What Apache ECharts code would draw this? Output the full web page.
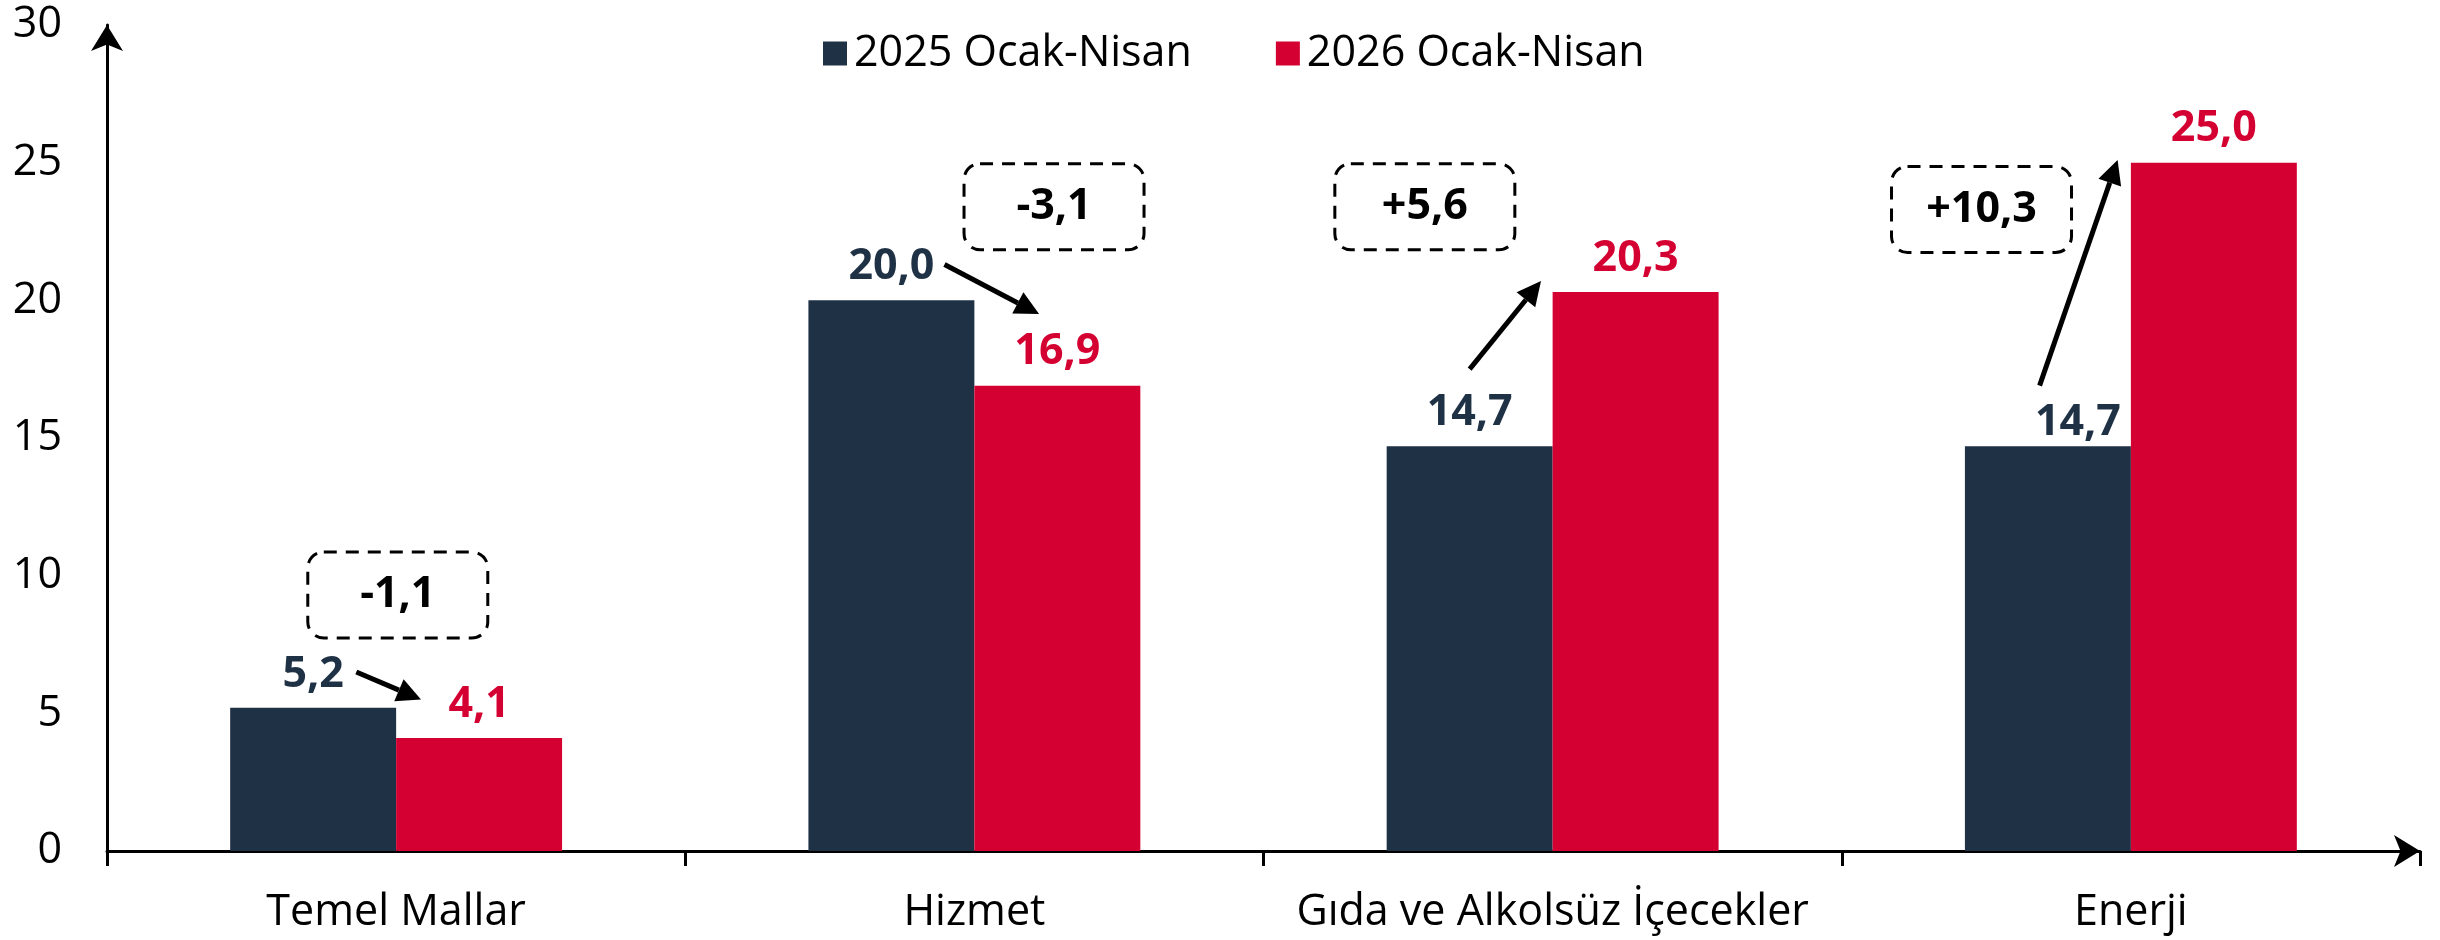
<!DOCTYPE html>
<html>
<head>
<meta charset="utf-8">
<script src="https://cdn.jsdelivr.net/npm/echarts@6/dist/echarts.min.js"></script>
<style>
  html, body { margin: 0; padding: 0; background: #fff; }
  #chartdiv { width: 2440px; height: 940px; }
</style>
</head>
<body>
<div id="chartdiv"></div>
<script>
// categories and values
var categories = ['Temel Mallar', 'Hizmet', 'Gıda ve Alkolsüz İçecekler', 'Enerji'];
var values2025 = [5.2, 20.0, 14.7, 14.7];
var values2026 = [4.1, 16.9, 20.3, 25.0];
var yTicks = [0, 5, 10, 15, 20, 25, 30];

// annotation anchors: x in bar widths from category centre, y in axis units
var arrowFromX = [-0.24, -0.18, -0.50, -0.55];
var arrowFromY = [6.5, 21.3, 17.5, 16.9];
var arrowToX = [0.15, 0.39, -0.07, -0.08];
var arrowToY = [5.5, 19.5, 20.7, 25.1];
var boxX = [0.01, 0.48, -0.77, -0.90];
var boxY = [9.3, 23.4, 23.4, 23.3];

var DARK = '#1F3145';
var RED = '#D50032';
var FONT = 'Open Sans';
var BAR_SHARE = 0.287;

function fmt(v) {
    return v.toFixed(1).replace('.', ',');
}

function fmtDiff(v) {
    return (v > 0 ? '+' : '') + fmt(v);
}

var annoData = categories.map(function(c, i) {
    return [i, arrowFromX[i], arrowFromY[i], arrowToX[i], arrowToY[i], boxX[i], boxY[i]];
});

function renderAnno(params, api) {
    var i = api.value(0);
    var band = api.size([1, 0])[0];
    var bw = band * BAR_SHARE;
    var c0 = api.coord([i, 0]);
    var p1 = api.coord([i, api.value(2)]);
    var p2 = api.coord([i, api.value(4)]);
    var pb = api.coord([i, api.value(6)]);
    var x1 = c0[0] + api.value(1) * bw, y1 = p1[1];
    var x2 = c0[0] + api.value(3) * bw, y2 = p2[1];
    var bx = c0[0] + api.value(5) * bw, by = pb[1];

    // arrow: shaft stops at the head base
    var dx = x2 - x1, dy = y2 - y1;
    var len = Math.sqrt(dx * dx + dy * dy);
    var ux = dx / len, uy = dy / len;
    var headL = 24, headW = 12;
    var hx = x2 - ux * headL, hy = y2 - uy * headL;

    var diff = Math.round((values2026[i] - values2025[i]) * 10) / 10;
    var boxW = 180, boxH = 86;

    return {
        type: 'group',
        children: [
            {
                type: 'line',
                shape: { x1: x1, y1: y1, x2: hx, y2: hy },
                style: { stroke: '#000', lineWidth: 5 }
            },
            {
                type: 'polygon',
                shape: { points: [[x2, y2], [hx - uy * headW, hy + ux * headW], [hx + uy * headW, hy - ux * headW]] },
                style: { fill: '#000' }
            },
            {
                type: 'rect',
                shape: { x: bx - boxW / 2, y: by - boxH / 2, width: boxW, height: boxH, r: 16 },
                style: { fill: 'none', stroke: '#000', lineWidth: 3, lineDash: [13, 9] }
            },
            {
                type: 'text',
                x: bx,
                y: by,
                style: {
                    text: fmtDiff(diff),
                    fill: '#000',
                    font: 'bold 43px "' + FONT + '"',
                    align: 'center',
                    verticalAlign: 'middle'
                }
            }
        ]
    };
}

var dark = values2025.map(function(v, i) {
    var item = { value: v };
    if (i === 3) item.label = { offset: [30, 10] };
    return item;
});

var options = {
    animation: false,
    textStyle: { fontFamily: FONT },
    legend: {
        data: ['2025 Ocak-Nisan', '2026 Ocak-Nisan'],
        left: 818,
        top: 27,
        itemWidth: 24,
        itemHeight: 24,
        itemGap: 84,
        icon: 'rect',
        textStyle: { fontSize: 43, color: '#000', fontFamily: FONT, padding: [0, 0, 0, 2] }
    },
    grid: {
        top: 25,
        bottom: 89,
        left: 107,
        right: 20,
        containLabel: false
    },
    xAxis: {
        type: 'category',
        data: categories,
        axisLine: {
            show: true,
            symbol: ['none', 'arrow'],
            symbolSize: [24, 26],
            lineStyle: { color: '#000', width: 3 }
        },
        axisTick: { show: true, interval: 0, length: 15, lineStyle: { color: '#000', width: 3 } },
        axisLabel: { interval: 0, fontSize: 43, color: '#000', margin: 40, fontFamily: FONT }
    },
    yAxis: {
        type: 'value',
        min: yTicks[0],
        max: yTicks[yTicks.length - 1],
        interval: yTicks[1] - yTicks[0],
        splitLine: { show: false },
        axisLine: {
            show: true,
            symbol: ['none', 'arrow'],
            symbolSize: [24, 26],
            lineStyle: { color: '#000', width: 3 }
        },
        axisTick: { show: false },
        axisLabel: { fontSize: 43, color: '#000', margin: 45, fontFamily: FONT }
    },
    series: [
        {
            name: '2025 Ocak-Nisan',
            type: 'bar',
            data: dark,
            barWidth: (BAR_SHARE * 100) + '%',
            barGap: '0%',
            itemStyle: { color: DARK },
            label: {
                show: true,
                position: 'top',
                distance: 12,
                color: DARK,
                fontSize: 43,
                fontWeight: 'bold',
                fontFamily: FONT,
                formatter: function(d) { return fmt(d.value); }
            }
        },
        {
            name: '2026 Ocak-Nisan',
            type: 'bar',
            data: values2026,
            barWidth: (BAR_SHARE * 100) + '%',
            itemStyle: { color: RED },
            label: {
                show: true,
                position: 'top',
                distance: 12,
                color: RED,
                fontSize: 43,
                fontWeight: 'bold',
                fontFamily: FONT,
                formatter: function(d) { return fmt(d.value); }
            }
        },
        {
            type: 'custom',
            renderItem: renderAnno,
            data: annoData,
            encode: { x: 0, y: 2 },
            clip: false,
            silent: true,
            z: 5
        }
    ]
};

var chartDom = document.getElementById('chartdiv');
var plot = echarts.init(chartDom);
plot.setOption(options);
</script>
</body>
</html>
